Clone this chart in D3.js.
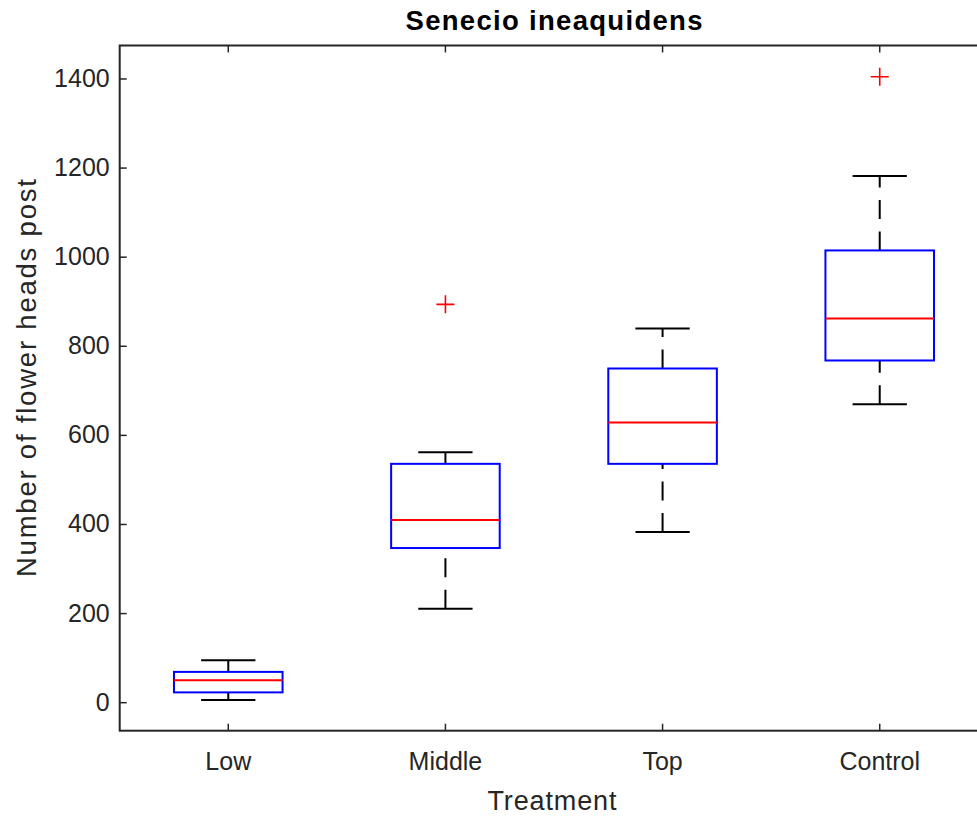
<!DOCTYPE html>
<html>
<head>
<meta charset="utf-8">
<script src="https://cdn.jsdelivr.net/npm/d3@7"></script>
<style>
  body { margin: 0; background: #fff; }
  svg { display: block; font-family: "Liberation Sans", Arial, Helvetica, sans-serif; }
</style>
</head>
<body>
<div id="chart"></div>
<script>
// size of the picture and the axes box (right edge runs past the picture, as in the original)
let w = 977;
let h = 816;
let plot = {left: 119.7, right: 988.3, top: 45.5, bottom: 730.7};

// data
let categories = ["Low", "Middle", "Top", "Control"];
let whiskerLow = [5, 210, 382, 669];
let q1 = [22, 346, 535, 767];
let medians = [49, 409, 628, 861];
let q3 = [68, 535, 749, 1014];
let whiskerHigh = [94, 561, 839, 1181];
let outliers = [[], [893], [], [1404]];
let yTicks = [0, 200, 400, 600, 800, 1000, 1200, 1400];

let axisColor = "#262626";
let tickFont = "25px";
let labelFont = "27.5px";

let x = d3.scaleBand()
    .domain(categories)
    .range([plot.left, plot.right])
    .padding(0);

let y = d3.scaleLinear()
    .domain([-64, 1474])
    .range([plot.bottom, plot.top]);

let boxW = x.bandwidth() * 0.5;
let capW = x.bandwidth() * 0.25;

let svg = d3.select("#chart")
    .append("svg")
    .attr("width", w)
    .attr("height", h);

// build one record per group
let groups = categories.map(function(c, i) {
    return {
        name: c,
        lo: whiskerLow[i],
        q1: q1[i],
        med: medians[i],
        q3: q3[i],
        hi: whiskerHigh[i],
        out: outliers[i]
    };
});

//whiskers (dashes start at the lower end of each line, like matlab)
let g = svg.selectAll("g.box")
    .data(groups)
    .enter()
    .append("g")
    .attr("class", "box")
    .attr("transform", function(d) { return "translate(" + (x(d.name) + x.bandwidth() / 2) + ",0)"; });

g.append("line")
    .attr("x1", 0).attr("x2", 0)
    .attr("y1", function(d) { return y(d.lo); })
    .attr("y2", function(d) { return y(d.q1); })
    .style("stroke", "#000")
    .style("stroke-width", 2)
    .style("stroke-dasharray", "19,12.5");

g.append("line")
    .attr("x1", 0).attr("x2", 0)
    .attr("y1", function(d) { return y(d.q3); })
    .attr("y2", function(d) { return y(d.hi); })
    .style("stroke", "#000")
    .style("stroke-width", 2)
    .style("stroke-dasharray", "19,12.5");

// caps
["lo", "hi"].forEach(function(k) {
    g.append("line")
        .attr("x1", -capW / 2).attr("x2", capW / 2)
        .attr("y1", function(d) { return y(d[k]); })
        .attr("y2", function(d) { return y(d[k]); })
        .style("stroke", "#000")
        .style("stroke-width", 2);
});

// boxes
g.append("rect")
    .attr("x", -boxW / 2)
    .attr("width", boxW)
    .attr("y", function(d) { return y(d.q3); })
    .attr("height", function(d) { return y(d.q1) - y(d.q3); })
    .style("fill", "none")
    .style("stroke", "#0000ff")
    .style("stroke-width", 2);

// medians
g.append("line")
    .attr("x1", -boxW / 2).attr("x2", boxW / 2)
    .attr("y1", function(d) { return y(d.med); })
    .attr("y2", function(d) { return y(d.med); })
    .style("stroke", "#ff0000")
    .style("stroke-width", 2);

// outliers as red plus signs
g.selectAll("path.out")
    .data(function(d) { return d.out; })
    .enter()
    .append("path")
    .attr("class", "out")
    .attr("d", function(v) {
        let cy = y(v);
        return "M-9," + cy + "H9M0," + (cy - 9) + "V" + (cy + 9);
    })
    .style("stroke", "#ff0000")
    .style("stroke-width", 1.6)
    .style("fill", "none");

// axes
let yAxis = d3.axisLeft(y)
    .tickValues(yTicks)
    .tickFormat(d3.format("d"))
    .tickSizeInner(-7)
    .tickSizeOuter(0)
    .tickPadding(10);

let xAxis = d3.axisBottom(x)
    .tickSizeInner(-7)
    .tickSizeOuter(0)
    .tickPadding(22);

let xTop = d3.axisTop(x)
    .tickSizeInner(-7)
    .tickSizeOuter(0)
    .tickFormat("");

let yRight = d3.axisRight(y)
    .tickValues(yTicks)
    .tickSizeInner(-7)
    .tickSizeOuter(0)
    .tickFormat("");

function styleAxis(sel) {
    sel.selectAll("path").remove();
    sel.selectAll("line").style("stroke", axisColor).style("stroke-width", 1.5);
    sel.selectAll("text")
        .style("fill", axisColor)
        .style("font-size", tickFont)
        .style("font-family", "'Liberation Sans', Arial, Helvetica, sans-serif");
}

svg.append("g").attr("transform", "translate(" + plot.left + ",0)").call(yAxis).call(styleAxis);
svg.append("g").attr("transform", "translate(0," + plot.bottom + ")").call(xAxis).call(styleAxis);
svg.append("g").attr("transform", "translate(0," + plot.top + ")").call(xTop).call(styleAxis);
svg.append("g").attr("transform", "translate(" + plot.right + ",0)").call(yRight).call(styleAxis);

// axes box
svg.append("rect")
    .attr("x", plot.left)
    .attr("y", plot.top)
    .attr("width", plot.right - plot.left)
    .attr("height", plot.bottom - plot.top)
    .style("fill", "none")
    .style("stroke", axisColor)
    .style("stroke-width", 2);

// title and axis labels
let midX = (plot.left + plot.right) / 2;

svg.append("text")
    .attr("x", midX)
    .attr("y", 29.5)
    .attr("text-anchor", "middle")
    .attr("textLength", 297)
    .attr("lengthAdjust", "spacing")
    .style("font-size", labelFont)
    .style("font-weight", "bold")
    .style("fill", "#000")
    .text("Senecio ineaquidens");

svg.append("text")
    .attr("x", midX - 2)
    .attr("y", 809.5)
    .attr("text-anchor", "middle")
    .attr("textLength", 129)
    .attr("lengthAdjust", "spacing")
    .style("font-size", "27px")
    .style("fill", axisColor)
    .text("Treatment");

svg.append("text")
    .attr("transform", "translate(36," + ((plot.top + plot.bottom) / 2 - 10) + ") rotate(-90)")
    .attr("text-anchor", "middle")
    .attr("textLength", 398)
    .attr("lengthAdjust", "spacing")
    .style("font-size", labelFont)
    .style("fill", axisColor)
    .text("Number of flower heads post");
</script>
</body>
</html>
